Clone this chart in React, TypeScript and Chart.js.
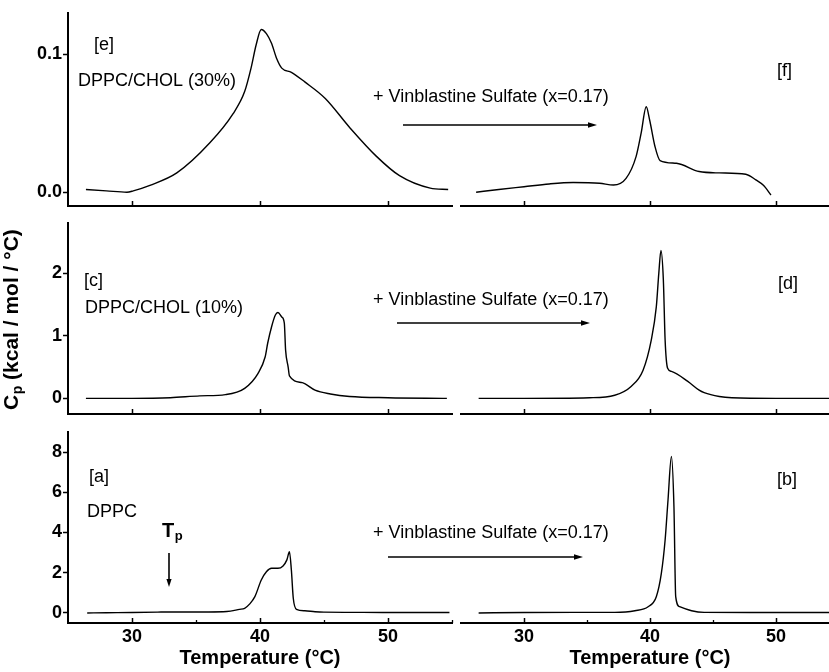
import React, { useEffect, useRef } from "react";
import { Chart, registerables } from "chart.js";

Chart.register(...registerables);

const FONT = "'Liberation Sans', Arial, Helvetica, sans-serif";
Chart.defaults.font.family = FONT;
Chart.defaults.color = "#000";

// ---------- data ----------
const tempLimits = [25, 55];
const tempTicks = [30, 40, 50];
const tempMinorTicks = [35, 45, 55];

// [a] DPPC
const tempA = [26.5, 28, 30, 32, 32.7, 34, 36, 37.4, 38.4, 38.8, 39.2, 39.6, 40.1, 40.5, 40.9, 41.4, 41.8, 42.1, 42.3, 42.45, 42.6, 42.85, 43.5, 44.3, 45, 48, 52, 54.8];
const cpA = [0, 0.01, 0.02, 0.04, 0.05, 0.05, 0.05, 0.07, 0.18, 0.23, 0.45, 0.81, 1.64, 2.05, 2.22, 2.22, 2.34, 2.64, 3.05, 2.14, 0.73, 0.18, 0.11, 0.06, 0.04, 0.03, 0.02, 0.02];

// [b] DPPC + Vinblastine Sulfate
const tempB = [26.4, 30, 34, 37.2, 38.8, 39.85, 40.5, 40.9, 41.2, 41.43, 41.7, 41.9, 42.04, 42.35, 43.3, 44.3, 48, 52, 55];
const cpB = [0, 0.02, 0.03, 0.03, 0.11, 0.31, 0.81, 1.97, 3.63, 5.62, 7.78, 5.29, 0.81, 0.31, 0.11, 0.03, 0.02, 0.02, 0.02];

// [c] DPPC/CHOL (10%)
const tempC = [26.4, 30, 33, 35.3, 37.3, 38.8, 39.85, 40.4, 40.6, 40.9, 41.2, 41.4, 41.7, 41.9, 42.0, 42.2, 42.3, 43.3, 44.3, 45.5, 47, 50, 54.6];
const cpC = [0, 0, 0.01, 0.04, 0.06, 0.16, 0.4, 0.66, 0.88, 1.14, 1.33, 1.37, 1.3, 1.2, 0.77, 0.5, 0.36, 0.25, 0.13, 0.07, 0.03, 0.01, 0];

// [d] DPPC/CHOL (10%) + Vinblastine Sulfate
const tempD = [26.4, 30, 35.2, 37.2, 38.5, 39.45, 40.1, 40.5, 40.7, 40.87, 41.06, 41.2, 41.4, 41.7, 43.0, 43.9, 44.3, 45.5, 46.5, 50, 55];
const cpD = [0, 0, 0.01, 0.05, 0.19, 0.45, 0.93, 1.46, 2.0, 2.36, 1.89, 0.93, 0.48, 0.43, 0.27, 0.13, 0.09, 0.03, 0.01, 0, 0];

// [e] DPPC/CHOL (30%)
const tempE = [26.4, 28, 29.6, 30.1, 31.4, 33.5, 36.1, 37.9, 38.8, 39.3, 39.7, 40.1, 40.5, 40.9, 41.3, 41.7, 42.45, 43.5, 45.1, 47.0, 49.1, 50.9, 53.3, 54.7];
const cpE = [0.002, 0.001, 0, 0.001, 0.005, 0.014, 0.036, 0.057, 0.073, 0.09, 0.107, 0.118, 0.115, 0.108, 0.097, 0.09, 0.087, 0.08, 0.068, 0.047, 0.026, 0.012, 0.003, 0.002];

// [f] DPPC/CHOL (30%) + Vinblastine Sulfate
const tempF = [26.2, 28, 30, 32, 33.9, 36.0, 37.1, 38.1, 38.9, 39.3, 39.7, 39.98, 40.4, 40.8, 42.1, 43.9, 45.5, 47.6, 48.4, 49.0, 49.6];
const cpF = [0, 0.002, 0.004, 0.006, 0.007, 0.0065, 0.0052, 0.01, 0.026, 0.043, 0.062, 0.052, 0.033, 0.023, 0.021, 0.015, 0.014, 0.013, 0.009, 0.005, -0.002];

const cpLimitsTop = [-0.01, 0.13];
const cpTicksTop = [0, 0.1];
const cpLimitsMid = [-0.25, 2.8];
const cpTicksMid = [0, 1, 2];
const cpLimitsBot = [-0.5, 9];
const cpTicksBot = [0, 2, 4, 6, 8];

const additiveLabel = "+ Vinblastine Sulfate (x=0.17)";
const xTitle = "Temperature (\u00B0C)";

// ---------- layout ----------
const PAGE_W = 829;
const LEFT_AREA_LEFT = 68;
const LEFT_AREA_RIGHT = 452;
const RIGHT_CANVAS_LEFT = 452;
const RIGHT_CANVAS_W = 392;
const RIGHT_AREA_LEFT = 461;
const RIGHT_AREA_RIGHT = 839;

type Note =
  | { kind: "text"; text: string; x: number; y: number; bold?: boolean; size?: number }
  | { kind: "harrow"; x0: number; x1: number; y: number }
  | { kind: "varrow"; x: number; y0: number; y1: number }
  | { kind: "sub"; main: string; sub: string; x: number; y: number };

interface Row {
  top: number;
  height: number;
  areaTop: number;
  areaBottom: number;
  yLim: number[];
  yTicks: number[];
  dec: number;
  bottom: boolean;
  left: number[][];
  right: number[][];
  notes: Note[];
  yTitle: boolean;
}

const rows: Row[] = [
  {
    top: 0, height: 215, areaTop: 13, areaBottom: 206,
    yLim: cpLimitsTop, yTicks: cpTicksTop, dec: 1, bottom: false,
    left: [tempE, cpE], right: [tempF, cpF], yTitle: false,
    notes: [
      { kind: "text", text: "[e]", x: 94, y: 50 },
      { kind: "text", text: "DPPC/CHOL (30%)", x: 78, y: 86 },
      { kind: "text", text: additiveLabel, x: 373, y: 102 },
      { kind: "harrow", x0: 403, x1: 597, y: 125 },
      { kind: "text", text: "[f]", x: 777, y: 76 },
    ],
  },
  {
    top: 215, height: 205, areaTop: 223, areaBottom: 414,
    yLim: cpLimitsMid, yTicks: cpTicksMid, dec: 0, bottom: false,
    left: [tempC, cpC], right: [tempD, cpD], yTitle: true,
    notes: [
      { kind: "text", text: "[c]", x: 84, y: 286 },
      { kind: "text", text: "DPPC/CHOL (10%)", x: 85, y: 312.5 },
      { kind: "text", text: additiveLabel, x: 373, y: 305 },
      { kind: "harrow", x0: 397, x1: 590, y: 323 },
      { kind: "text", text: "[d]", x: 778, y: 289 },
    ],
  },
  {
    top: 420, height: 252, areaTop: 432, areaBottom: 623,
    yLim: cpLimitsBot, yTicks: cpTicksBot, dec: 0, bottom: true,
    left: [tempA, cpA], right: [tempB, cpB], yTitle: false,
    notes: [
      { kind: "text", text: "[a]", x: 89, y: 482 },
      { kind: "text", text: "DPPC", x: 87, y: 517 },
      { kind: "sub", main: "T", sub: "p", x: 162, y: 537 },
      { kind: "varrow", x: 169, y0: 553, y1: 587 },
      { kind: "text", text: additiveLabel, x: 373, y: 538 },
      { kind: "harrow", x0: 388, x1: 583, y: 557 },
      { kind: "text", text: "[b]", x: 777, y: 485 },
    ],
  },
];

function drawNotes(ctx: CanvasRenderingContext2D, notes: Note[], dy: number) {
  ctx.save();
  ctx.fillStyle = "#000";
  ctx.strokeStyle = "#000";
  ctx.textAlign = "left";
  ctx.textBaseline = "alphabetic";
  for (const n of notes) {
    if (n.kind === "text") {
      ctx.font = `${n.bold ? "bold " : ""}${n.size || 18}px ${FONT}`;
      ctx.fillText(n.text, n.x, n.y - dy);
    } else if (n.kind === "sub") {
      ctx.font = `bold 20px ${FONT}`;
      ctx.fillText(n.main, n.x, n.y - dy);
      const w = ctx.measureText(n.main).width;
      ctx.font = `bold 13px ${FONT}`;
      ctx.fillText(n.sub, n.x + w + 0.5, n.y - dy + 3);
    } else if (n.kind === "harrow") {
      const y = n.y - dy;
      ctx.lineWidth = 1.6;
      ctx.beginPath();
      ctx.moveTo(n.x0, y);
      ctx.lineTo(n.x1 - 8, y);
      ctx.stroke();
      ctx.beginPath();
      ctx.moveTo(n.x1, y);
      ctx.lineTo(n.x1 - 9, y - 2.8);
      ctx.lineTo(n.x1 - 9, y + 2.8);
      ctx.closePath();
      ctx.fill();
    } else if (n.kind === "varrow") {
      const y0 = n.y0 - dy;
      const y1 = n.y1 - dy;
      ctx.lineWidth = 1.6;
      ctx.beginPath();
      ctx.moveTo(n.x, y0);
      ctx.lineTo(n.x, y1 - 6);
      ctx.stroke();
      ctx.beginPath();
      ctx.moveTo(n.x, y1);
      ctx.lineTo(n.x - 2.6, y1 - 8);
      ctx.lineTo(n.x + 2.6, y1 - 8);
      ctx.closePath();
      ctx.fill();
    }
  }
  ctx.restore();
}

function drawYTitle(ctx: CanvasRenderingContext2D, x: number, y: number) {
  ctx.save();
  ctx.translate(x, y);
  ctx.rotate(-Math.PI / 2);
  ctx.fillStyle = "#000";
  ctx.textAlign = "left";
  ctx.textBaseline = "alphabetic";
  ctx.font = `bold 21px ${FONT}`;
  ctx.fillText("C", 0, 0);
  let w = ctx.measureText("C").width;
  ctx.font = `bold 14px ${FONT}`;
  ctx.fillText("p", w + 0.5, 4);
  w += ctx.measureText("p").width + 0.5;
  ctx.font = `bold 21px ${FONT}`;
  ctx.fillText(" (kcal / mol / \u00B0C)", w, 0);
  ctx.restore();
}

function buildChart(canvas: HTMLCanvasElement, row: Row, side: "left" | "right") {
  const isLeft = side === "left";
  const [ts, vs] = isLeft ? row.left : row.right;
  const canvasLeft = isLeft ? 0 : RIGHT_CANVAS_LEFT;
  const canvasW = isLeft ? PAGE_W : RIGHT_CANVAS_W;
  const xAxisH = row.bottom ? row.top + row.height - row.areaBottom : 2;
  const padBottom = row.top + row.height - row.areaBottom - xAxisH;
  const padTop = row.areaTop - row.top;
  const padLeft = isLeft ? 0 : RIGHT_AREA_LEFT - canvasLeft;
  const padRight = isLeft ? PAGE_W - LEFT_AREA_RIGHT : canvasLeft + canvasW - RIGHT_AREA_RIGHT;

  const fixSize = (size: number) => (scale: any) => {
    if (scale.isHorizontal()) scale.height = size;
    else scale.width = size;
    scale.paddingTop = 0;
    scale.paddingBottom = 0;
    scale.paddingLeft = 0;
    scale.paddingRight = 0;
  };

  const plugin = {
    id: "panelNotes",
    afterDraw(chart: any) {
      const ctx = chart.ctx as CanvasRenderingContext2D;
      const xs = chart.scales.x;
      const area = chart.chartArea;
      if (row.bottom) {
        ctx.save();
        ctx.strokeStyle = "#000";
        ctx.lineWidth = 1.3;
        for (const v of tempMinorTicks) {
          if (v < xs.min || v > xs.max) continue;
          const px = Math.round(xs.getPixelForValue(v)) + 0.5;
          ctx.beginPath();
          ctx.moveTo(px, area.bottom);
          ctx.lineTo(px, area.bottom - 3);
          ctx.stroke();
        }
        ctx.restore();
      }
      if (isLeft) {
        drawNotes(ctx, row.notes, row.top);
        if (row.yTitle) drawYTitle(ctx, 18, 410 - row.top);
      }
    },
  };

  return new Chart(canvas, {
    type: "line",
    data: {
      datasets: [
        {
          data: ts.map((t, i) => ({ x: t, y: vs[i] })),
          borderColor: "#000",
          borderWidth: 1.4,
          pointRadius: 0,
          fill: false,
          cubicInterpolationMode: "monotone",
        },
      ],
    },
    options: {
      responsive: false,
      animation: false,
      events: [],
      layout: { padding: { top: padTop, bottom: padBottom, left: padLeft, right: padRight } },
      plugins: { legend: { display: false }, tooltip: { enabled: false } },
      scales: {
        x: {
          type: "linear",
          min: tempLimits[0],
          max: tempLimits[1],
          afterBuildTicks: (s: any) => {
            s.ticks = tempTicks.map((v) => ({ value: v }));
          },
          afterFit: fixSize(xAxisH),
          border: { display: true, color: "#000", width: 2 },
          grid: {
            display: true,
            drawOnChartArea: false,
            drawTicks: true,
            tickLength: -5,
            tickColor: "#000",
            tickWidth: 1.5,
          },
          ticks: {
            display: row.bottom,
            autoSkip: false,
            maxRotation: 0,
            padding: 8,
            color: "#000",
            font: { size: 18, weight: "bold" },
            callback: (v: any) => String(v),
          },
          title: {
            display: row.bottom,
            text: xTitle,
            color: "#000",
            font: { size: 20, weight: "bold" },
            padding: { top: 0, bottom: 2 },
          },
        },
        y: {
          type: "linear",
          display: isLeft,
          min: row.yLim[0],
          max: row.yLim[1],
          afterBuildTicks: (s: any) => {
            s.ticks = row.yTicks.map((v) => ({ value: v }));
          },
          afterFit: fixSize(isLeft ? LEFT_AREA_LEFT : 0),
          border: { display: true, color: "#000", width: 2 },
          grid: {
            display: true,
            drawOnChartArea: false,
            drawTicks: true,
            tickLength: 5,
            tickColor: "#000",
            tickWidth: 1.5,
          },
          ticks: {
            padding: 1,
            color: "#000",
            font: { size: 18, weight: "bold" },
            callback: (v: any) => Number(v).toFixed(row.dec),
          },
        },
      },
    } as any,
    plugins: [plugin],
  });
}

export default function App() {
  const refs = useRef<(HTMLCanvasElement | null)[]>([]);

  useEffect(() => {
    const charts: Chart[] = [];
    rows.forEach((row, i) => {
      const l = refs.current[i * 2];
      const r = refs.current[i * 2 + 1];
      if (l) charts.push(buildChart(l, row, "left"));
      if (r) charts.push(buildChart(r, row, "right"));
    });
    return () => charts.forEach((c) => c.destroy());
  }, []);

  return (
    <div
      style={{
        position: "fixed",
        left: 0,
        top: 0,
        width: PAGE_W,
        height: 672,
        overflow: "hidden",
        background: "#fff",
      }}
    >
      {rows.map((row, i) => (
        <React.Fragment key={i}>
          <canvas
            ref={(el) => {
              refs.current[i * 2] = el;
            }}
            width={PAGE_W}
            height={row.height}
            style={{ position: "absolute", left: 0, top: row.top, width: PAGE_W, height: row.height }}
          />
          <canvas
            ref={(el) => {
              refs.current[i * 2 + 1] = el;
            }}
            width={RIGHT_CANVAS_W}
            height={row.height}
            style={{
              position: "absolute",
              left: RIGHT_CANVAS_LEFT,
              top: row.top,
              width: RIGHT_CANVAS_W,
              height: row.height,
            }}
          />
        </React.Fragment>
      ))}
    </div>
  );
}
